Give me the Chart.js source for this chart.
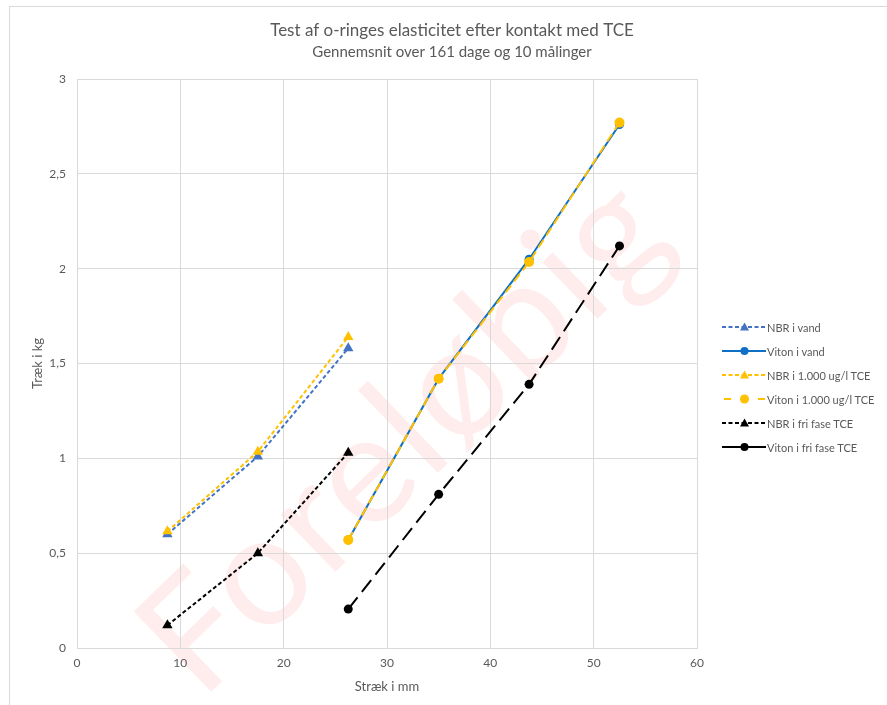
<!DOCTYPE html>
<html>
<head>
<meta charset="utf-8">
<script src="https://cdn.jsdelivr.net/npm/chart.js@4.4.0/dist/chart.umd.min.js"></script>
<style>
  html, body { margin: 0; padding: 0; background: #ffffff; }
  #wrap { position: relative; width: 887px; height: 705px; overflow: hidden; background: #fff; font-family: Lato, "Open Sans", sans-serif; }
  #frame { position: absolute; left: 9px; top: 6px; width: 900px; height: 720px; border-left: 1px solid #d9d9d9; border-top: 1px solid #d9d9d9; }
  #wm { position: absolute; left: 398px; top: 428px; transform: translate(-50%, -50%) rotate(-44deg); font-family: Lato, sans-serif; font-weight: 400; font-size: 156px; letter-spacing: 3px; line-height: 1; color: rgba(255, 0, 0, 0.075); white-space: nowrap; }
  #c { position: absolute; left: 0; top: 0; }
  #legend { position: absolute; left: 722px; top: 315px; font-family: Lato, sans-serif; font-size: 11px; color: #595959; }
  .row { height: 24px; display: flex; align-items: center; white-space: nowrap; }
  .row svg { width: 45px; height: 14px; flex: none; }
</style>
</head>
<body>
<div id="wrap">
  <div id="frame"></div>
  <div id="wm">Foreløbig</div>
  <canvas id="c" width="887" height="705"></canvas>
  <div id="legend"></div>
</div>
<script>
// ---- data ----
const seriesNames = ["NBR i vand", "Viton i vand", "NBR i 1.000 ug/l TCE", "Viton i 1.000 ug/l TCE", "NBR i fri fase TCE", "Viton i fri fase TCE"];
const xNBR = [8.75, 17.5, 26.25];
const xViton = [26.25, 35, 43.75, 52.5];
const nbrVand = [0.60, 1.01, 1.58];
const vitonVand = [0.57, 1.42, 2.05, 2.76];
const nbr1000 = [0.615, 1.035, 1.64];
const viton1000 = [0.57, 1.42, 2.035, 2.77];
const nbrFri = [0.12, 0.50, 1.03];
const vitonFri = [0.205, 0.81, 1.39, 2.12];
const xTitle = "Stræk i mm";
const yTitle = "Træk i kg";
const chartTitle = "Test af o-ringes elasticitet efter kontakt med TCE";
const chartSubtitle = "Gennemsnit over 161 dage og 10 målinger";

function pts(xs, ys) { return xs.map((x, i) => ({ x: x, y: ys[i] })); }

const BLUE1 = "#4472C4", BLUE2 = "#0F6FC6", YEL = "#FFC000", BLK = "#000000";
const TXT = "#595959", GRID = "#d9d9d9";

const datasets = [
  { label: seriesNames[0], data: pts(xNBR, nbrVand), borderColor: BLUE1, backgroundColor: BLUE1, borderDash: [4, 2.5], pointStyle: "triangle", pointRadius: 6, order: 2 },
  { label: seriesNames[1], data: pts(xViton, vitonVand), borderColor: BLUE2, backgroundColor: BLUE2, borderDash: [], pointStyle: "circle", pointRadius: 4.5, order: 3 },
  { label: seriesNames[2], data: pts(xNBR, nbr1000), borderColor: YEL, backgroundColor: YEL, borderDash: [4, 2.5], pointStyle: "triangle", pointRadius: 6, order: 1 },
  { label: seriesNames[3], data: pts(xViton, viton1000), borderColor: YEL, backgroundColor: YEL, borderDash: [9, 5], pointStyle: "circle", pointRadius: 5, order: 0 },
  { label: seriesNames[4], data: pts(xNBR, nbrFri), borderColor: BLK, backgroundColor: BLK, borderDash: [4, 2.5], pointStyle: "triangle", pointRadius: 6, order: 4 },
  { label: seriesNames[5], data: pts(xViton, vitonFri), borderColor: BLK, backgroundColor: BLK, borderDash: [15, 7], pointStyle: "circle", pointRadius: 4.5, order: 5 }
].map(d => Object.assign({ showLine: true, borderWidth: 2, pointBorderWidth: 0, pointBorderColor: d.borderColor, tension: 0, fill: false }, d));

new Chart(document.getElementById("c"), {
  type: "scatter",
  data: { datasets: datasets },
  options: {
    responsive: false,
    animation: false,
    events: [],
    layout: { padding: { left: 17, right: 0, top: 0, bottom: 6 } },
    plugins: {
      legend: { display: false },
      tooltip: { enabled: false },
      title: { display: true, text: chartTitle, color: TXT, font: { family: "Lato", size: 17, weight: "normal", lineHeight: 1.2 }, padding: { top: 20, bottom: 2 } },
      subtitle: { display: true, text: chartSubtitle, color: TXT, font: { family: "Lato", size: 15, weight: "normal", lineHeight: 1.2 }, padding: { top: 1, bottom: 17.6 } }
    },
    scales: {
      x: {
        type: "linear", min: 0, max: 60,
        ticks: { stepSize: 10, color: TXT, font: { family: "Lato", size: 12 }, padding: 8, maxRotation: 0 },
        grid: { color: GRID, drawTicks: false },
        border: { color: GRID },
        title: { display: true, text: xTitle, color: TXT, font: { family: "Lato", size: 13 }, padding: { top: 4, bottom: 4 } },
        afterFit: s => { s.height = 51; }
      },
      y: {
        type: "linear", min: 0, max: 3,
        ticks: { stepSize: 0.5, color: TXT, font: { family: "Lato", size: 12 }, padding: 11, callback: v => String(v).replace(".", ",") },
        grid: { color: GRID, drawTicks: false },
        border: { color: GRID },
        title: { display: true, text: yTitle, color: TXT, font: { family: "Lato", size: 13 }, padding: { top: 13, bottom: 4 } },
        afterFit: s => { s.width = 60; }
      },
      yRightSpace: {
        type: "linear", position: "right", min: 0, max: 3,
        display: true,
        ticks: { display: false },
        grid: { display: false, drawTicks: false },
        border: { display: false },
        afterFit: s => { s.width = 190; }
      }
    }
  }
});

// ---- HTML legend (line + marker samples) ----
const legendStyles = [
  { color: BLUE1, dash: "4 2.5", marker: "tri" },
  { color: BLUE2, dash: "", marker: "circ" },
  { color: YEL, dash: "4 2.5", marker: "tri" },
  { color: YEL, dash: "split", marker: "circ" },
  { color: BLK, dash: "4 2.5", marker: "tri" },
  { color: BLK, dash: "", marker: "circ" }
];
const lg = document.getElementById("legend");
seriesNames.forEach((name, i) => {
  const st = legendStyles[i];
  let line;
  if (st.dash === "split") {
    line = `<line x1="2" y1="7" x2="9" y2="7" stroke="${st.color}" stroke-width="2"/><line x1="36" y1="7" x2="43" y2="7" stroke="${st.color}" stroke-width="2"/>`;
  } else {
    line = `<line x1="0" y1="7" x2="44" y2="7" stroke="${st.color}" stroke-width="2" ${st.dash ? `stroke-dasharray="${st.dash}"` : ""}/>`;
  }
  const mk = st.marker === "tri"
    ? `<polygon points="22.5,2.5 27,10.5 18,10.5" fill="${st.color}"/>`
    : `<circle cx="22.5" cy="7" r="${st.dash === 'split' ? 4.5 : 4}" fill="${st.color}"/>`;
  const row = document.createElement("div");
  row.className = "row";
  row.innerHTML = `<svg viewBox="0 0 45 14">${line}${mk}</svg><span>${name}</span>`;
  lg.appendChild(row);
});
</script>
</body>
</html>
